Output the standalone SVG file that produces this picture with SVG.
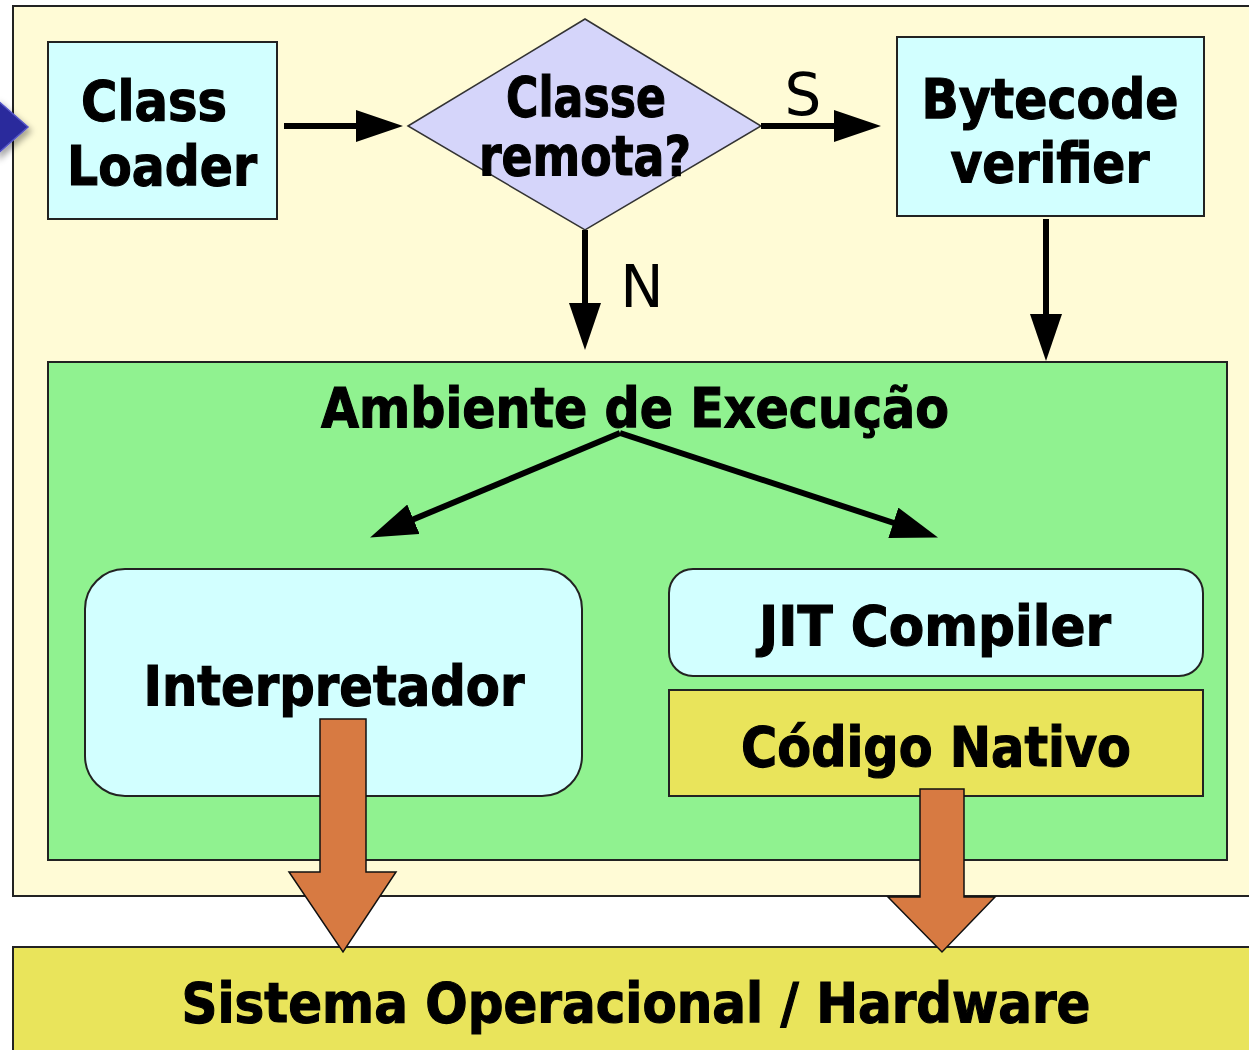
<svg xmlns="http://www.w3.org/2000/svg" width="1249" height="1050" viewBox="0 0 1249 1050">
  <defs>
    <style>
      .lbl { font-family: "DejaVu Sans", Verdana, sans-serif; font-weight: bold; font-size: 55px; fill: #000; stroke: #000; stroke-width: 1.2; text-anchor: middle; }
      .yn { font-family: "DejaVu Sans", Verdana, sans-serif; font-weight: normal; font-size: 58px; fill: #000; text-anchor: middle; }
      .box { stroke: #222; stroke-width: 2; }
      .cyan { fill: #D2FFFF; }
      .yellow { fill: #E9E45B; }
      .conn { stroke: #000; stroke-width: 6; fill: none; marker-end: url(#head); }
      .block { fill: #D77A42; stroke: #111; stroke-width: 1.5; stroke-linejoin: miter; }
    </style>
    <marker id="head" viewBox="0 0 47 32" refX="7" refY="16" markerWidth="47" markerHeight="32" markerUnits="userSpaceOnUse" orient="auto">
      <path d="M0,0 L47,16 L0,32 z" fill="#000"/>
    </marker>
    <filter id="shadow" x="-50%" y="-50%" width="200%" height="200%">
      <feDropShadow dx="3" dy="4" stdDeviation="3" flood-color="#000" flood-opacity="0.35"/>
    </filter>
  </defs>

  <rect width="1249" height="1050" fill="#FFFFFF"/>

  <!-- outer panel -->
  <rect id="panel" x="13" y="6" width="1300" height="890" fill="#FFFBD6" stroke="#222" stroke-width="2"/>

  <!-- entry pointer on the left edge -->
  <polygon id="pointer" points="-4,99 28,127 -4,155" fill="#2C2C9C" stroke="#5555C8" stroke-width="1.5" filter="url(#shadow)"/>

  <g id="class-loader">
    <rect class="box cyan" x="48" y="42" width="229" height="177"/>
    <text class="lbl" x="154" y="120" textLength="146" lengthAdjust="spacingAndGlyphs">Class</text>
    <text class="lbl" x="162" y="185" textLength="190" lengthAdjust="spacingAndGlyphs">Loader</text>
  </g>

  <g id="decision">
    <polygon points="408,126 585,19 761,126 585,230" fill="#D5D5FA" stroke="#333" stroke-width="1.5"/>
    <text class="lbl" x="586" y="116" textLength="160" lengthAdjust="spacingAndGlyphs">Classe</text>
    <text class="lbl" x="585" y="175" textLength="212" lengthAdjust="spacingAndGlyphs">remota?</text>
  </g>

  <g id="bytecode-verifier">
    <rect class="box cyan" x="897" y="37" width="307" height="179"/>
    <text class="lbl" x="1050" y="118" textLength="257" lengthAdjust="spacingAndGlyphs">Bytecode</text>
    <text class="lbl" x="1050" y="182" textLength="199" lengthAdjust="spacingAndGlyphs">verifier</text>
  </g>

  <g id="runtime">
    <rect class="box" x="48" y="362" width="1179" height="498" fill="#90F290"/>
    <text class="lbl" x="635" y="427" textLength="628" lengthAdjust="spacingAndGlyphs">Ambiente de Execução</text>
  </g>

  <g id="interpreter">
    <rect class="box cyan" x="85" y="569" width="497" height="227" rx="40" ry="40"/>
    <text class="lbl" x="334" y="705" textLength="381" lengthAdjust="spacingAndGlyphs">Interpretador</text>
  </g>

  <g id="jit-compiler">
    <rect class="box cyan" x="669" y="569" width="534" height="107" rx="24" ry="24"/>
    <text class="lbl" x="935" y="645" textLength="352" lengthAdjust="spacingAndGlyphs">JIT Compiler</text>
  </g>

  <g id="native-code">
    <rect class="box yellow" x="669" y="690" width="534" height="106"/>
    <text class="lbl" x="936" y="766" textLength="390" lengthAdjust="spacingAndGlyphs">Código Nativo</text>
  </g>

  <g id="os-hardware">
    <rect class="box yellow" x="13" y="947" width="1300" height="120"/>
    <text class="lbl" x="636" y="1022" textLength="909" lengthAdjust="spacingAndGlyphs">Sistema Operacional / Hardware</text>
  </g>

  <g id="connectors">
    <line class="conn" x1="284" y1="126" x2="363" y2="126"/>
    <line class="conn" x1="761" y1="126" x2="841" y2="126"/>
    <line class="conn" x1="585" y1="230" x2="585" y2="310"/>
    <line class="conn" x1="1046" y1="219" x2="1046" y2="321"/>
    <line class="conn" x1="620" y1="433" x2="407" y2="522"/>
    <line class="conn" x1="620" y1="433" x2="900" y2="525"/>
    <text class="yn" x="803" y="115">S</text>
    <text class="yn" x="642" y="307">N</text>
    <polygon class="block" points="320,719 366,719 366,872 396,872 343,952 289,872 320,872"/>
    <polygon class="block" points="920,789 964,789 964,897 995,897 942,952 888,897 920,897"/>
  </g>
</svg>
